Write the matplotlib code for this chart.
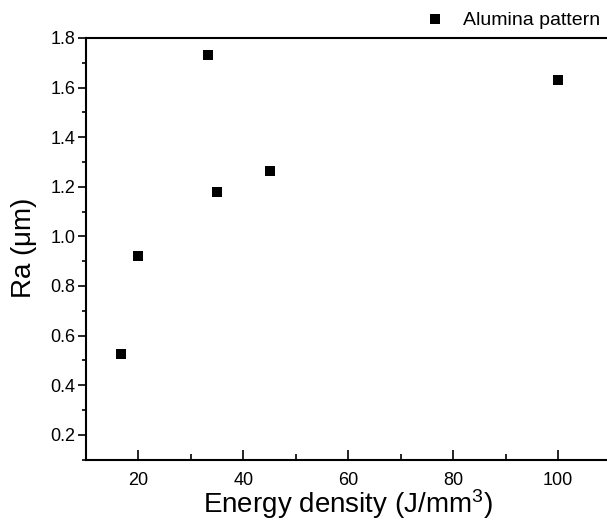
import matplotlib
matplotlib.use('Agg')
import matplotlib.pyplot as plt
from matplotlib.ticker import MultipleLocator

plt.rcParams['font.family'] = ['Liberation Sans', 'DejaVu Sans']
plt.rcParams['mathtext.fontset'] = 'custom'
plt.rcParams['mathtext.rm'] = 'Liberation Sans'
plt.rcParams['mathtext.it'] = 'Liberation Sans'

# energy density (J/mm3) vs roughness Ra (um)
energy = [16.7, 20, 33.3, 35, 45, 100]
ra = [0.527, 0.922, 1.731, 1.179, 1.262, 1.631]
series_name = 'Alumina pattern'

fig = plt.figure(figsize=(6.07, 5.26), dpi=100)
ax = fig.add_axes([0.1417, 0.1264, 0.8642, 0.8014])

ax.scatter(energy, ra, marker='s', s=42, c='black', linewidths=0, label=series_name)

ax.set_xlim(10, 110)
ax.set_ylim(0.1, 1.8)
ax.xaxis.set_major_locator(MultipleLocator(20))
ax.xaxis.set_minor_locator(MultipleLocator(10))
ax.yaxis.set_major_locator(MultipleLocator(0.2))
ax.yaxis.set_minor_locator(MultipleLocator(0.1))
ax.yaxis.set_major_formatter(plt.FormatStrFormatter('%.1f'))

ax.tick_params(axis='x', which='both', direction='in', labelsize=13, pad=9, width=1.2)
ax.tick_params(axis='x', which='major', length=7)
ax.tick_params(axis='x', which='minor', length=4)
ax.tick_params(axis='y', which='both', direction='out', labelsize=13, pad=2, width=1.2)
ax.tick_params(axis='y', which='major', length=5.5)
ax.tick_params(axis='y', which='minor', length=3)

for s in ax.spines.values():
    s.set_linewidth(1.5)

ax.set_xlabel('Energy density (J/mm$^3$)', fontsize=20, labelpad=-1)
ax.set_ylabel('Ra ($\\mu$m)', fontsize=20, labelpad=8)

ax.legend(loc='lower left', bbox_to_anchor=(0.613, 1.004), frameon=False,
          fontsize=14, handletextpad=0.45, markerscale=1.0, borderaxespad=0)

fig.savefig('out.png', dpi=100)
